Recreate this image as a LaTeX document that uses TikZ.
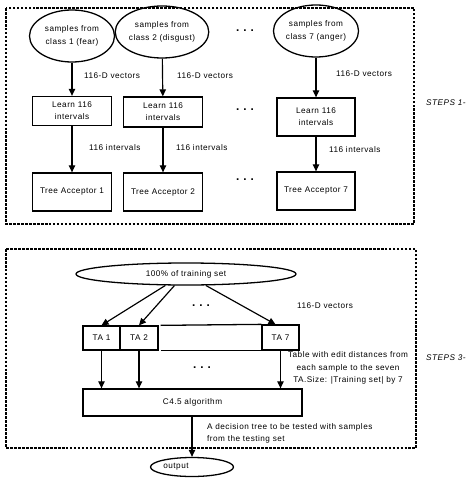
\documentclass[tikz,border=0pt]{standalone}
\usepackage{fontspec}
\setmainfont{Liberation Sans}[LetterSpace=6]
\usetikzlibrary{shapes.geometric,arrows.meta}

\tikzset{
	oval/.style = {draw, ellipse, line width = 1.1pt, inner sep = 0pt, align = center},
	box/.style = {draw, rectangle, line width = 1.1pt, inner sep = 0pt, align = center},
	frame/.style = {line width = 0.9pt, dash pattern = on 2.2pt off 1.2pt},
	flow/.style = {-{Triangle[width = 5.5pt, length = 6pt]}, line width = 1pt},
	gap/.style = {font = \fontsize{10}{10}\selectfont\bfseries},
}

\newcommand{\gapdots}{.\hspace{3.5pt}.\hspace{3.5pt}.}

\begin{document}
\begin{tikzpicture}[x = 0.03cm, y = -0.03cm, every node/.style = {font = \fontsize{7}{10.5}\selectfont}]
				%	pixel unit
				\def\px{0.03cm}
				\useasboundingbox (0, 0) rectangle (465, 481);
				
				%	steps 1-2
				\draw[frame] (6, 8) rectangle (414, 224);
				\node[oval, minimum width = 85*\px, minimum height = 52*\px] (cls1) at (72, 36) {samples from\\class 1 (fear)};
				\node[oval, minimum width = 85*\px, minimum height = 52*\px] (cls2) at (162, 32) {samples from\\class 2 (disgust)};
				\node[oval, minimum width = 83*\px, minimum height = 52*\px] (cls7) at (316, 31) {samples from\\class 7 (anger)};
				
				\node[box, minimum width = 79*\px, minimum height = 29*\px] (learn1) at (72, 111) {Learn 116\\intervals};
				\node[box, minimum width = 79*\px, minimum height = 30*\px] (learn2) at (163, 112) {Learn 116\\intervals};
				\node[box, minimum width = 78*\px, minimum height = 38*\px] (learn7) at (316, 117) {Learn 116\\intervals};
				
				\node[box, minimum width = 79*\px, minimum height = 38*\px] (ta1big) at (72, 192) {Tree Acceptor 1};
				\node[box, minimum width = 79*\px, minimum height = 38*\px] (ta2big) at (163, 192) {Tree Acceptor 2};
				\node[box, minimum width = 78*\px, minimum height = 38*\px] (ta7big) at (316, 191) {Tree Acceptor 7};
				
				\draw[flow] (cls1) -- (learn1);
				\draw[flow] (cls2) -- (learn2);
				\draw[flow] (cls7) -- (learn7);
				\draw[flow] (learn1) -- (ta1big);
				\draw[flow] (learn2) -- (ta2big);
				\draw[flow] (learn7) -- (ta7big);
				
				\node[anchor = west] (vec1) at (80, 76) {116-D vectors};
				\node[anchor = west] (vec2) at (173, 76) {116-D vectors};
				\node[anchor = west] (vec7) at (332, 74) {116-D vectors};
				\node[anchor = west] (int1) at (85, 148) {116 intervals};
				\node[anchor = west] (int2) at (172, 148) {116 intervals};
				\node[anchor = west] (int7) at (325, 150) {116 intervals};
				
				\node[gap] (dotsa) at (245, 31) {\gapdots};
				\node[gap] (dotsb) at (245, 110) {\gapdots};
				\node[gap] (dotsc) at (245, 180) {\gapdots};
				
				\node[anchor = west, font = \fontsize{7}{10.5}\selectfont\itshape] (steps12) at (422, 103) {STEPS 1-2};
				
				%	steps 3-4
				\draw[frame] (6, 249) rectangle (416, 448);
				\node[oval, minimum width = 220*\px, minimum height = 22*\px] (train) at (186, 274) {100\% of training set};
				
				\node[box, minimum width = 37*\px, minimum height = 24*\px] (ta1) at (101.5, 338) {TA 1};
				\node[box, minimum width = 38*\px, minimum height = 24*\px] (ta2) at (139, 338) {TA 2};
				\node[box, minimum width = 37*\px, minimum height = 25*\px] (ta7) at (280.5, 337.5) {TA 7};
				\draw[line width = 1.1pt] ([xshift = 2*\px]ta2.north east) -- (ta7.north west);
				\draw[line width = 1.1pt] ([xshift = 2*\px]ta2.south east) -- (ta7.south west);
				
				\draw[flow] (train.209) -- (ta1.north);
				\draw[flow] (train.225) -- (ta2.north);
				\draw[flow] (train.330) -- ([xshift = -5*\px]ta7.north);
				
				\node[anchor = west] (vec) at (293, 306) {116-D vectors};
				\node[gap] (dotsd) at (201, 306) {\gapdots};
				\node[gap] (dotse) at (202, 368) {\gapdots};
				
				\node[box, minimum width = 219*\px, minimum height = 27*\px] (c45) at (192.5, 402.5) {C4.5 algorithm};
				\draw[flow] (ta1.south) -- (ta1.south |- c45.north);
				\draw[flow] (ta2.south) -- (ta2.south |- c45.north);
				\draw[flow] (ta7.south) -- (ta7.south |- c45.north);
				
				\node[align = center] (table) at (348, 368) {Table with edit distances from\\each sample to the seven\\TA.Size: |Training set| by 7};
				\node[anchor = west, font = \fontsize{7}{10.5}\selectfont\itshape] (steps34) at (422, 358) {STEPS 3-4};
				
				%	output
				\node[oval, minimum width = 83*\px, minimum height = 19*\px] (out) at (192, 467) {};
				\node (outtxt) at (176, 467) {output};
				\draw[flow] (c45.south -| out.north) -- (out.north);
				\node[anchor = west, align = left] (tree) at (203, 433.5) {A decision tree to be tested with samples\\from the testing set};
\end{tikzpicture}
\end{document}
